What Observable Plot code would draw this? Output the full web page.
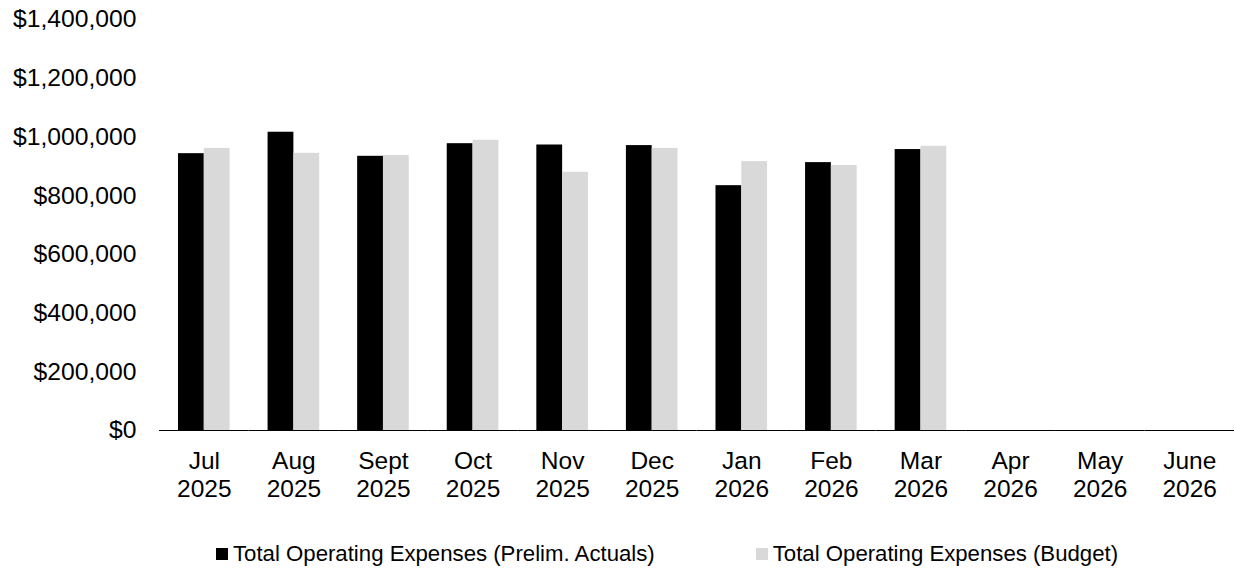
<!DOCTYPE html>
<html>
<head>
<meta charset="utf-8">
<script src="https://cdn.jsdelivr.net/npm/d3@7"></script>
<script src="https://cdn.jsdelivr.net/npm/@observablehq/plot@0.6"></script>
<style>
  body { margin: 0; background: #fff; font-family: "Liberation Sans", Arial, sans-serif; }
  #wrap { position: relative; width: 1235px; height: 573px; }
  #legend { position: absolute; left: 216px; top: 542px; display: flex; gap: 101px; font-size: 22.2px; color: #000; line-height: 24px; white-space: nowrap; }
  .item { display: flex; align-items: center; }
  .sw { width: 12px; height: 12px; margin-right: 5px; }
</style>
</head>
<body>
<div id="wrap"><div id="chart"></div><div id="legend"></div></div>
<script>
const months = ["Jul", "Aug", "Sept", "Oct", "Nov", "Dec", "Jan", "Feb", "Mar", "Apr", "May", "June"];
const years = ["2025", "2025", "2025", "2025", "2025", "2025", "2026", "2026", "2026", "2026", "2026", "2026"];
const seriesNames = ["Total Operating Expenses (Prelim. Actuals)", "Total Operating Expenses (Budget)"];
const actuals = [943000, 1016000, 934000, 977000, 972500, 970500, 834000, 912500, 957000, null, null, null];
const budget = [961000, 944000, 936500, 988500, 879500, 961000, 916000, 902500, 968000, null, null, null];
const colors = ["#000000", "#d9d9d9"];
const yTicks = [0, 200000, 400000, 600000, 800000, 1000000, 1200000, 1400000];

const categories = months.map((m, i) => m + "\n" + years[i]);
const data = categories.flatMap((c, i) => [
  {month: c, series: seriesNames[0], value: actuals[i]},
  {month: c, series: seriesNames[1], value: budget[i]}
]);

const chart = Plot.plot({
  width: 1235,
  height: 520,
  marginLeft: 159,
  marginRight: 1,
  marginTop: 19,
  marginBottom: 90,
  style: {fontFamily: "'Liberation Sans', Arial, sans-serif", fontSize: "24.5px", color: "#000", background: "#fff"},
  fx: {domain: categories, padding: 0, round: false, label: null},
  x: {domain: seriesNames, axis: null, paddingInner: 0, paddingOuter: 0.736, round: false},
  y: {domain: [0, 1400000], label: null},
  color: {domain: seriesNames, range: colors},
  marks: [
    Plot.axisY({ticks: yTicks, tickSize: 0, tickPadding: 23, fontSize: 24.7, tickFormat: d3.format("$,.0f"), label: null}),
    Plot.axisFx({anchor: "bottom", tickSize: 0, tickPadding: 19, fontSize: 24.5, lineHeight: 1.145, label: null}),
    Plot.barY(data, {fx: "month", x: "series", y: "value", fill: "series"}),
    Plot.ruleY([0], {stroke: "#000", strokeWidth: 1.2})
  ]
});
document.getElementById("chart").appendChild(chart);

const legend = document.getElementById("legend");
seriesNames.forEach((s, i) => {
  const item = document.createElement("div");
  item.className = "item";
  const sw = document.createElement("span");
  sw.className = "sw";
  sw.style.background = colors[i];
  const t = document.createElement("span");
  t.textContent = s;
  item.appendChild(sw);
  item.appendChild(t);
  legend.appendChild(item);
});
</script>
</body>
</html>
